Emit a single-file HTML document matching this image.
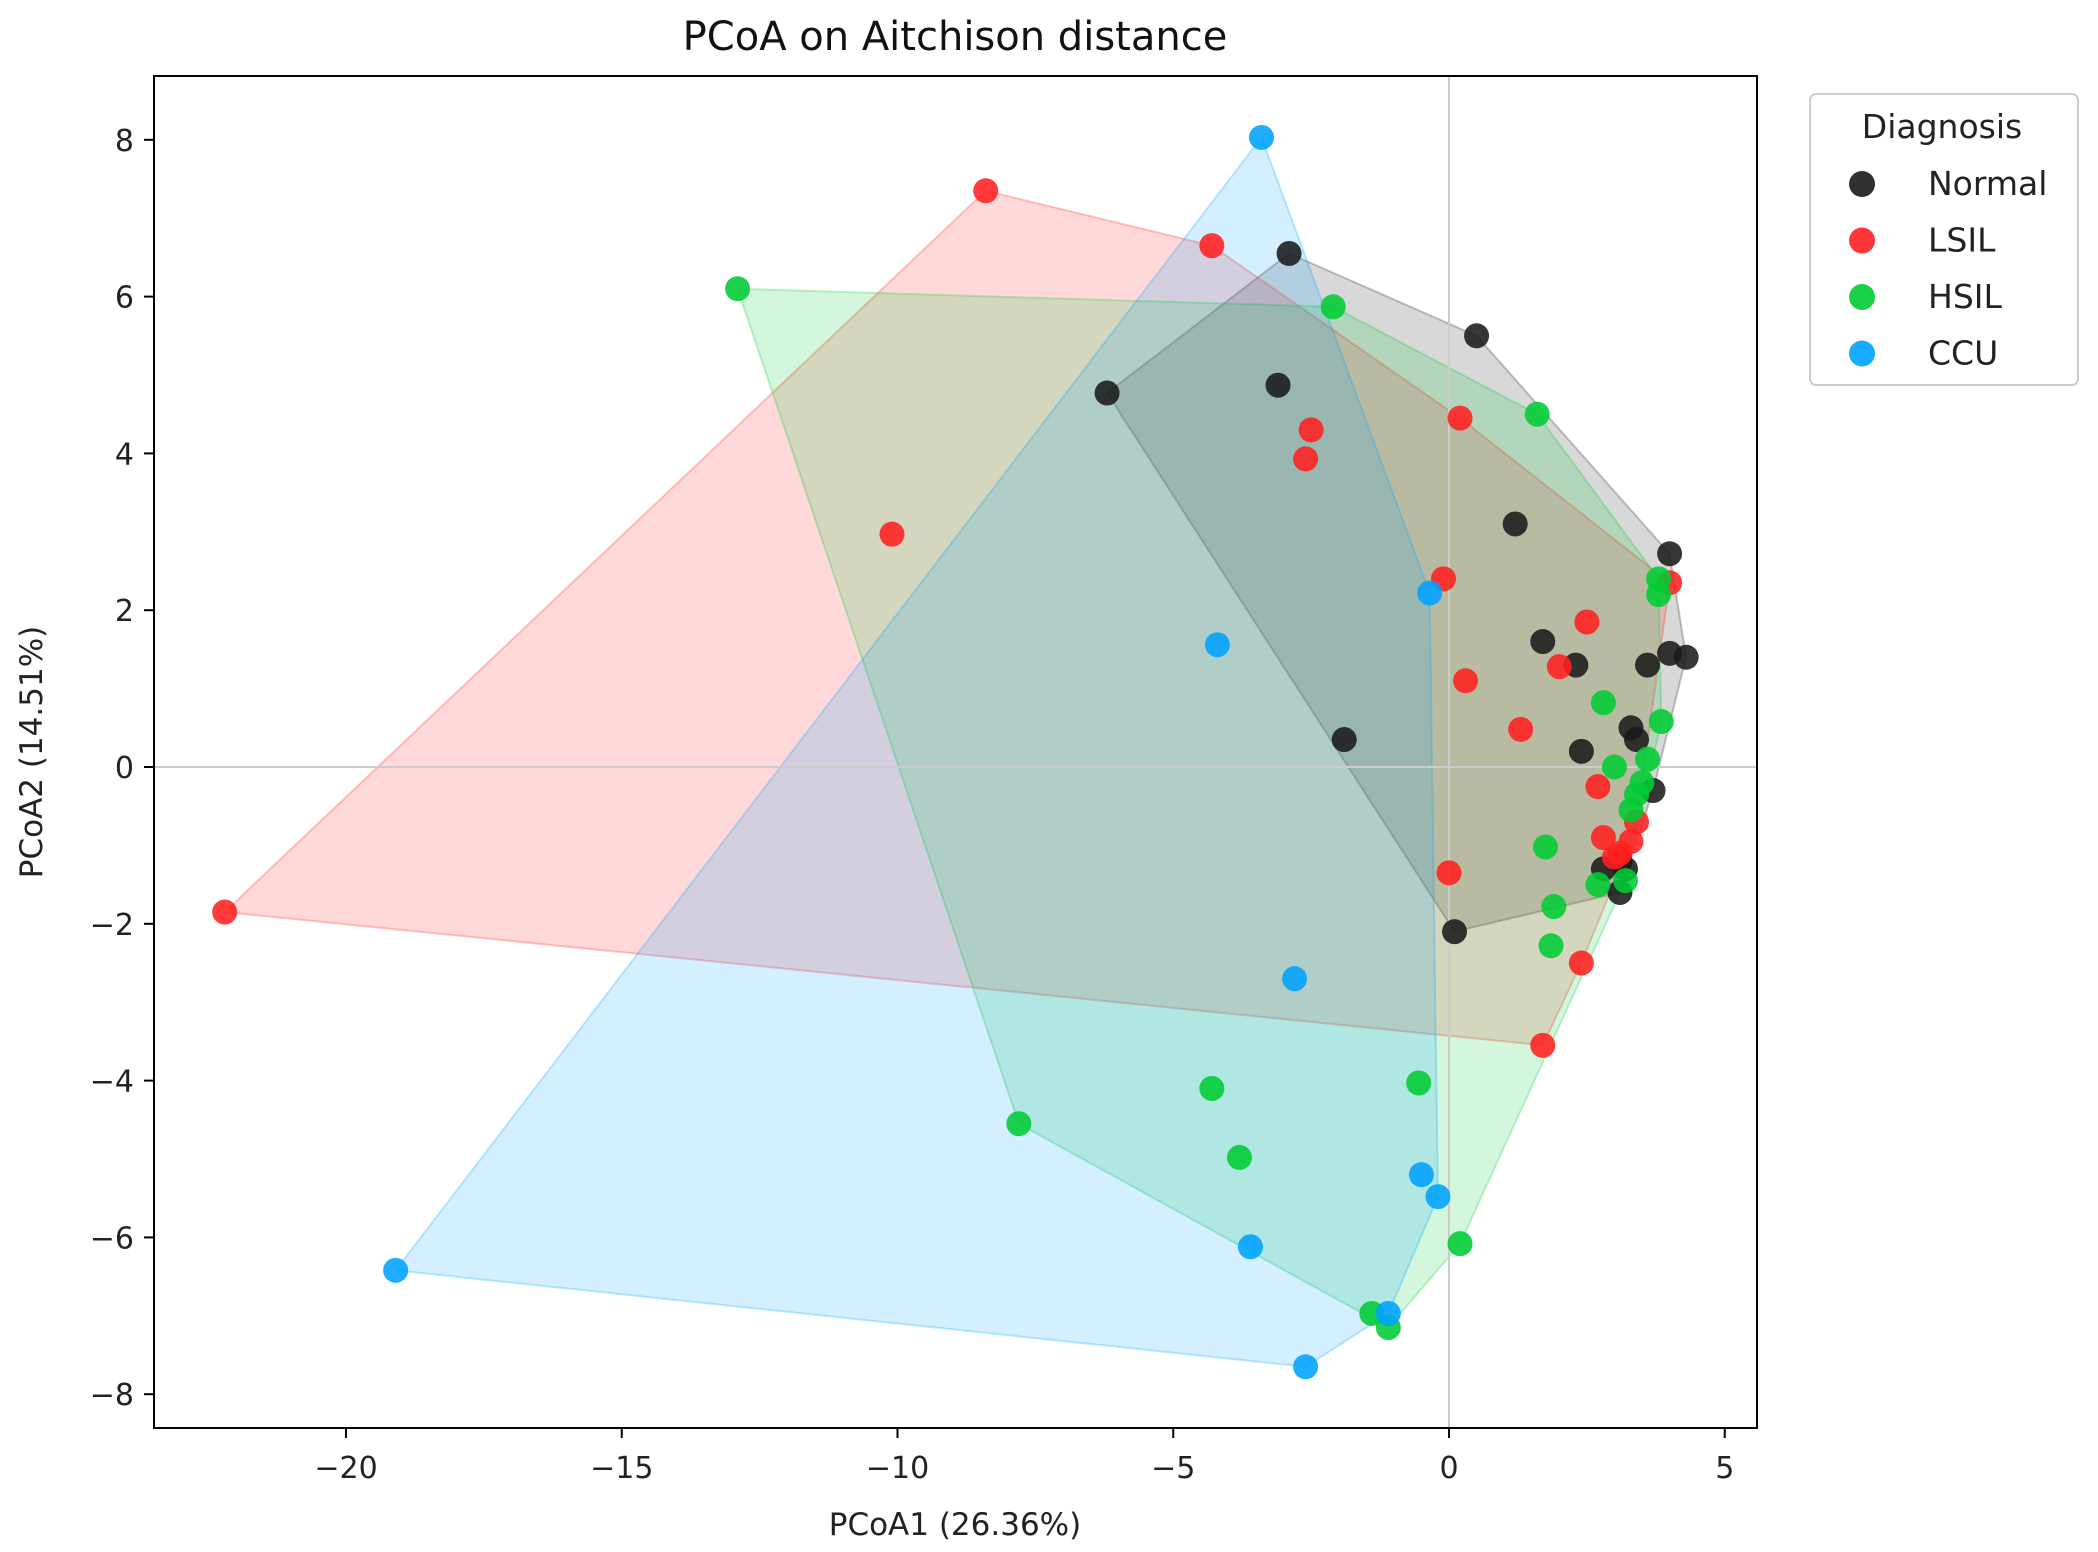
<!DOCTYPE html>
<html><head><meta charset="utf-8"><style>
body{margin:0;background:#fff;}
svg{display:block;font-family:"DejaVu Sans","Liberation Sans",sans-serif;}
</style></head><body>
<svg id="chart" width="2098" height="1552" viewBox="0 0 2098 1552" xmlns="http://www.w3.org/2000/svg">
<rect width="2098" height="1552" fill="#fff"/>
<text x="955" y="50" font-size="40" text-anchor="middle" fill="#111">PCoA on Aitchison distance</text>
<g id="hulls"></g>
<g id="grid"></g>
<g id="points"></g>
<rect x="154" y="76" width="1603" height="1352" fill="none" stroke="#000" stroke-width="2"/>
<g id="ticks"></g>
<text x="955" y="1535" font-size="31" text-anchor="middle" fill="#222">PCoA1 (26.36%)</text>
<text transform="translate(42,752) rotate(-90)" font-size="31" text-anchor="middle" fill="#222">PCoA2 (14.51%)</text>
<g>
<rect x="1810" y="94" width="268" height="291" rx="6" fill="#fff" stroke="#ccc" stroke-width="2"/>
<text x="1942" y="138" font-size="33" text-anchor="middle" fill="#222">Diagnosis</text>
<g id="legend-items"></g>
</g>
</svg>
<script>
const groups = ["Normal","LSIL","HSIL","CCU"];
const colors = ["#1a1a1a","#ff2020","#00cc33","#00a2ff"];
const normalX = [-2.9,0.5,-6.2,-3.1,1.2,4.0,1.7,2.3,3.6,4.0,4.3,-1.9,3.3,3.4,2.4,3.7,3.1,3.2,3.1,0.1,2.8];
const normalY = [6.55,5.5,4.77,4.87,3.1,2.72,1.6,1.3,1.3,1.45,1.4,0.35,0.5,0.35,0.2,-0.3,-1.2,-1.3,-1.6,-2.1,-1.3];
const lsilX = [-8.4,-4.3,-2.5,-2.6,-10.1,0.2,-0.1,4.0,2.5,2.0,0.3,1.3,2.7,3.4,2.8,3.3,3.1,3.0,0.0,2.4,1.7,-22.2];
const lsilY = [7.35,6.65,4.3,3.93,2.97,4.45,2.4,2.35,1.85,1.28,1.1,0.48,-0.25,-0.7,-0.9,-0.95,-1.1,-1.15,-1.35,-2.5,-3.55,-1.85];
const hsilX = [-12.9,-2.1,1.6,3.8,3.8,2.8,3.85,3.6,3.0,3.5,3.4,3.3,1.75,2.7,3.2,1.9,1.85,-0.55,-4.3,-7.8,-3.8,0.2,-1.4,-1.1];
const hsilY = [6.1,5.87,4.5,2.4,2.2,0.82,0.58,0.1,0.0,-0.2,-0.35,-0.55,-1.02,-1.5,-1.45,-1.78,-2.28,-4.03,-4.1,-4.55,-4.98,-6.08,-6.97,-7.15];
const ccuX = [-3.4,-0.35,-4.2,-2.8,-0.5,-0.2,-3.6,-19.1,-1.1,-2.6];
const ccuY = [8.03,2.22,1.56,-2.7,-5.2,-5.48,-6.12,-6.42,-6.97,-7.65];
const xTicks = [-20,-15,-10,-5,0,5];
const yTicks = [-8,-6,-4,-2,0,2,4,6,8];

const NS="http://www.w3.org/2000/svg";
const X = v => 1449 + v*55.15;
const Y = v => 767 - v*78.4;
function mk(tag, attrs, parent){const e=document.createElementNS(NS,tag);for(const k in attrs)e.setAttribute(k,attrs[k]);parent.appendChild(e);return e;}
const data=[[normalX,normalY],[lsilX,lsilY],[hsilX,hsilY],[ccuX,ccuY]];
function hull(pts){
  pts=pts.slice().sort((a,b)=>a[0]-b[0]||a[1]-b[1]);
  const cr=(o,a,b)=>(a[0]-o[0])*(b[1]-o[1])-(a[1]-o[1])*(b[0]-o[0]);
  const lo=[],up=[];
  for(const p of pts){while(lo.length>=2&&cr(lo[lo.length-2],lo[lo.length-1],p)<=0)lo.pop();lo.push(p);}
  for(const p of pts.slice().reverse()){while(up.length>=2&&cr(up[up.length-2],up[up.length-1],p)<=0)up.pop();up.push(p);}
  return lo.slice(0,-1).concat(up.slice(0,-1));
}
const hg=document.getElementById('hulls'), pg=document.getElementById('points'), gg=document.getElementById('grid'), tg=document.getElementById('ticks');
data.forEach((d,i)=>{
  const pts=d[0].map((x,j)=>[X(x),Y(d[1][j])]);
  const h=hull(pts);
  const poly=mk('polygon',{points:h.map(p=>p.join(',')).join(' '),fill:colors[i],'fill-opacity':0.17,stroke:colors[i],'stroke-opacity':0.25,'stroke-width':2},hg);
  
  
});
let l=mk('line',{x1:X(0),x2:X(0),y1:76,y2:1428,stroke:'#ccc','stroke-width':2},gg);


l=mk('line',{x1:154,x2:1757,y1:Y(0),y2:Y(0),stroke:'#ccc','stroke-width':2},gg);


data.forEach((d,i)=>{
  d[0].forEach((x,j)=>{
    const c=mk('circle',{cx:X(x),cy:Y(d[1][j]),r:12.5,fill:colors[i],'fill-opacity':0.88},pg);
    
    
  });
});
xTicks.forEach(v=>{
  mk('line',{x1:X(v),x2:X(v),y1:1428,y2:1438,stroke:'#000','stroke-width':2},tg);
  const t=mk('text',{x:X(v),y:1478,'font-size':30,'text-anchor':'middle',fill:'#222'},tg);
  t.textContent=(v<0?'\u2212'+(-v):v);
  
  
});
yTicks.forEach(v=>{
  mk('line',{x1:144,x2:154,y1:Y(v),y2:Y(v),stroke:'#000','stroke-width':2},tg);
  const t=mk('text',{x:134,y:Y(v)+11,'font-size':30,'text-anchor':'end',fill:'#222'},tg);
  t.textContent=(v<0?'\u2212'+(-v):v);
  
  
});
const lg=document.getElementById('legend-items');
groups.forEach((g,i)=>{
  const y=184+i*56.5;
  const c=mk('circle',{cx:1862,cy:y,r:13,fill:colors[i],'fill-opacity':0.9},lg);
  
  
  const t=mk('text',{x:1928,y:y+11,'font-size':33,fill:'#222'},lg);
  t.textContent=g;
  
  
});
</script>
</body></html>
